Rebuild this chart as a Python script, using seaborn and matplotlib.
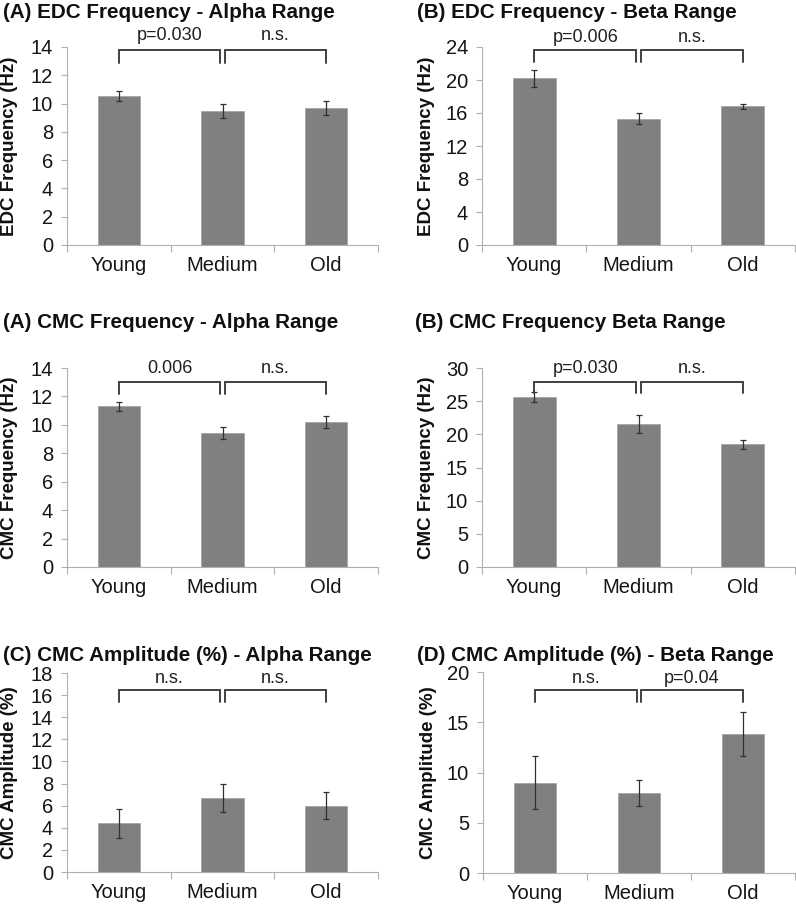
import numpy as np
import pandas as pd
import matplotlib
matplotlib.use('Agg')
import matplotlib.pyplot as plt
import seaborn as sns

# Date citite din figura de referință
groups = ['Young', 'Medium', 'Old']

edc_alpha = [10.55, 9.45, 9.7]
edc_alpha_err = [0.35, 0.5, 0.5]
edc_beta = [20.2, 15.3, 16.8]
edc_beta_err = [1.05, 0.65, 0.35]
cmc_alpha = [11.3, 9.45, 10.2]
cmc_alpha_err = [0.33, 0.42, 0.4]
cmc_beta = [25.6, 21.5, 18.5]
cmc_beta_err = [0.8, 1.35, 0.7]
amp_alpha = [4.4, 6.7, 6.0]
amp_alpha_err = [1.3, 1.3, 1.25]
amp_beta = [9.0, 8.0, 13.8]
amp_beta_err = [2.6, 1.3, 2.2]

sns.set_style('white')
plt.rcParams['font.family'] = ['Liberation Sans', 'DejaVu Sans']

BAR = '#808080'
LINE = '#404040'

fig = plt.figure(figsize=(7.96, 9.05), dpi=100)
W, H = 796, 905


def add_axes(left, right, top, bottom):
    return fig.add_axes([left / W, 1 - bottom / H, (right - left) / W, (bottom - top) / H])


def panel(ax, values, errs, ymax, step, ylabel, labels, br_top, br_leg, txt_y, lab_x):
    df = pd.DataFrame({'group': groups, 'value': values})
    sns.barplot(data=df, x='group', y='value', color=BAR, width=0.41,
                errorbar=None, ax=ax, saturation=1, edgecolor='#a0a0a0', linewidth=0.5)
    ax.errorbar(range(3), values, yerr=errs, fmt='none', ecolor='#303030',
                elinewidth=0.9, capsize=2.5, capthick=0.9)
    ax.set_xlim(-0.5, 2.5)
    ax.set_ylim(0, ymax)
    ax.set_yticks(np.arange(0, ymax + 0.01, step))
    ax.tick_params(axis='y', labelsize=14.5, length=4, width=0.8, color='#b0b0b0',
                   direction='out', pad=6, left=True, labelcolor='#151515')
    ax.tick_params(axis='x', labelsize=14.5, length=0, pad=8, labelcolor='#151515')
    ax.set_xticks([0, 1, 2])
    ax.set_xticklabels(groups)
    ax.set_xticks([-0.5, 0.5, 1.5, 2.5], minor=True)
    ax.tick_params(axis='x', which='minor', length=5, width=0.8, color='#b0b0b0', bottom=True)
    ax.set_xlabel('')
    ax.set_ylabel(ylabel, fontsize=13.5, fontweight='bold', color='#101010')
    ax.yaxis.set_label_coords(lab_x, 0.5)
    for s in ['top', 'right']:
        ax.spines[s].set_visible(False)
    for s in ['left', 'bottom']:
        ax.spines[s].set_color('#b0b0b0')
        ax.spines[s].set_linewidth(0.8)
    # paranteze de semnificație
    for (x0, x1), lab in zip([(0, 0.98), (1.02, 2)], labels):
        ax.plot([x0, x0, x1, x1], [br_leg, br_top, br_top, br_leg], color=LINE,
                lw=1.4, clip_on=False, solid_joinstyle='miter')
        ax.text((x0 + x1) / 2, txt_y, lab, ha='center', va='center', fontsize=13,
                color='#202020', clip_on=False)


ax1 = add_axes(67, 378, 47, 245)
panel(ax1, edc_alpha, edc_alpha_err, 14, 2, 'EDC Frequency (Hz)',
      ['p=0.030', 'n.s.'], 13.8, 12.9, 14.8, -0.158)
ax2 = add_axes(482, 795, 47, 245)
panel(ax2, edc_beta, edc_beta_err, 24, 4, 'EDC Frequency (Hz)',
      ['p=0.006', 'n.s.'], 23.6, 22.2, 25.2, -0.150)
ax3 = add_axes(67, 378, 368, 567)
panel(ax3, cmc_alpha, cmc_alpha_err, 14, 2, 'CMC Frequency (Hz)',
      ['0.006', 'n.s.'], 13.0, 12.2, 14.0, -0.158)
ax4 = add_axes(482, 795, 368, 567)
panel(ax4, cmc_beta, cmc_beta_err, 30, 5, 'CMC Frequency (Hz)',
      ['p=0.030', 'n.s.'], 27.9, 26.2, 30.0, -0.150)
ax5 = add_axes(67, 378, 673, 872)
panel(ax5, amp_alpha, amp_alpha_err, 18, 2, 'CMC Amplitude (%)',
      ['n.s.', 'n.s.'], 16.45, 15.4, 17.5, -0.158)
ax6 = add_axes(483, 795, 672, 873)
panel(ax6, amp_beta, amp_beta_err, 20, 5, 'CMC Amplitude (%)',
      ['n.s.', 'p=0.04'], 18.2, 17.0, 19.4, -0.147)

titles = [
    (3, 12, '(A) EDC Frequency - Alpha Range'),
    (417, 12, '(B) EDC Frequency - Beta Range'),
    (3, 322, '(A) CMC Frequency - Alpha Range'),
    (415, 322, '(B) CMC Frequency Beta Range'),
    (3, 655, '(C) CMC Amplitude (%) - Alpha Range'),
    (417, 655, '(D) CMC Amplitude (%) - Beta Range'),
]
for x, y, t in titles:
    fig.text(x / W, 1 - y / H, t, ha='left', va='center', fontsize=14.9,
             fontweight='bold', color='#101010')

fig.savefig('out.png', dpi=100)
